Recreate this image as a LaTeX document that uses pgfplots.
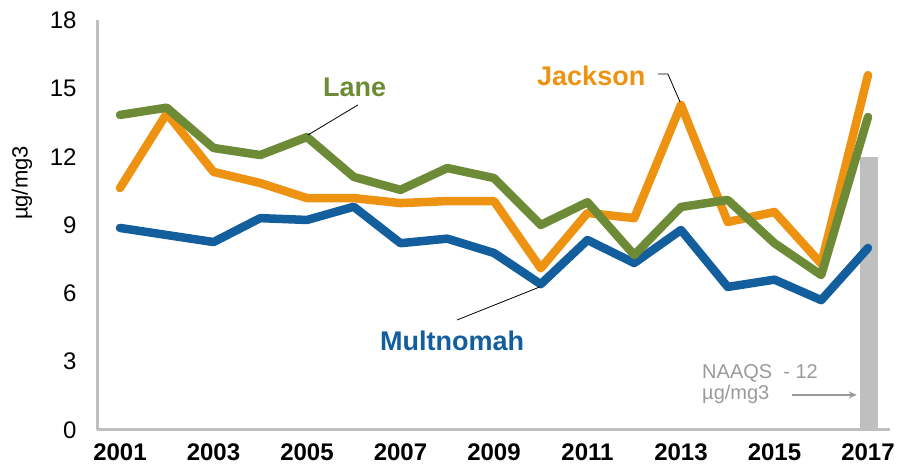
\documentclass[border=0pt]{standalone}
\usepackage{fontspec}
\setmainfont{Liberation Sans}
\usepackage{pgfplots}
\pgfplotsset{compat=1.18}
\usetikzlibrary{arrows.meta}
\definecolor{cblue}{HTML}{135E9C}
\definecolor{corange}{HTML}{EE9311}
\definecolor{cgreen}{HTML}{6D8B36}
\definecolor{axgray}{HTML}{BFBFBF}
\definecolor{txtgray}{HTML}{9A9A9A}
\begin{document}
\begin{tikzpicture}
\begin{axis}[
  x=46.75pt, y=22.78pt,
  xmin=2000.508, xmax=2017.47, ymin=0, ymax=18,
  axis x line=bottom, axis y line=left,
  axis line style={draw=axgray, line width=3pt, -},
  xtick={2001,2003,...,2017}, ytick={0,3,...,18},
  major tick length=0pt,
  tick label style={font=\fontsize{24}{28}\selectfont},
  xticklabel style={font=\fontsize{24}{28}\selectfont\bfseries, yshift=-10pt},
  yticklabel style={xshift=-17pt},
  /pgf/number format/assume math mode=true,
  /pgf/number format/1000 sep={},
  clip=false,
]
% NAAQS bar
\addplot[ybar, bar width=18pt, fill=axgray, draw=none] coordinates {(2017.02,12)};
% Multnomah
\addplot[cblue, line width=8.5pt, line join=round, line cap=round] coordinates {
(2001,8.87)(2002,8.56)(2003,8.25)(2004,9.3)(2005,9.22)(2006,9.8)(2007,8.2)(2008,8.4)
(2009,7.77)(2010,6.4)(2011,8.34)(2012,7.33)(2013,8.78)(2014,6.28)(2015,6.6)(2016,5.7)(2017,7.99)};
% Jackson
\addplot[corange, line width=8.5pt, line join=round, line cap=round] coordinates {
(2001,10.62)(2002,13.9)(2003,11.33)(2004,10.84)(2005,10.18)(2006,10.18)(2007,9.96)(2008,10.05)
(2009,10.05)(2010,7.1)(2011,9.53)(2012,9.3)(2013,14.27)(2014,9.13)(2015,9.57)(2016,7.3)(2017,15.58)};
% Lane
\addplot[cgreen, line width=8.5pt, line join=round, line cap=round] coordinates {
(2001,13.83)(2002,14.15)(2003,12.38)(2004,12.07)(2005,12.86)(2006,11.11)(2007,10.54)(2008,11.5)
(2009,11.06)(2010,9.0)(2011,10.0)(2012,7.68)(2013,9.79)(2014,10.1)(2015,8.2)(2016,6.8)(2017,13.74)};
% annotations
\node[anchor=base west, inner sep=0pt, text=cgreen, font=\fontsize{27}{30}\selectfont\bfseries] at (axis cs:2005.34,14.62) {Lane};
\draw[black, line width=0.8pt] (axis cs:2006.09,14.27) -- (axis cs:2005.02,12.95);
\node[anchor=base west, inner sep=0pt, text=corange, font=\fontsize{27}{30}\selectfont\bfseries] at (axis cs:2009.92,15.14) {Jackson};
\draw[black, line width=0.8pt] (axis cs:2012.51,15.63) -- (axis cs:2012.72,15.63) -- (axis cs:2012.98,14.40);
\node[anchor=base west, inner sep=0pt, text=cblue, font=\fontsize{27}{30}\selectfont\bfseries] at (axis cs:2006.56,3.51) {Multnomah};
\draw[black, line width=0.8pt] (axis cs:2008.21,4.83) -- (axis cs:2009.98,6.28);
\node[anchor=base west, inner sep=0pt, text=txtgray, font=\fontsize{20}{22}\selectfont] at (axis cs:2013.45,2.28) {NAAQS\ \ - 12};
\node[anchor=base west, inner sep=0pt, text=txtgray, font=\fontsize{20}{22}\selectfont] at (axis cs:2013.45,1.32) {µg/mg3};
\draw[txtgray, line width=1.3pt, -{Stealth[length=8pt,width=7pt]}] (axis cs:2015.37,1.54) -- (axis cs:2016.76,1.54);
\node[rotate=90, inner sep=0pt, font=\fontsize{22}{24}\selectfont] at (axis cs:1998.90,10.84) {µg/mg3};
\coordinate (bl) at (axis cs:1998.433,-1.932);
\coordinate (tr) at (axis cs:2017.642,18.876);
\end{axis}
\pgfresetboundingbox
\path[use as bounding box] (bl) rectangle (tr);
\end{tikzpicture}
\end{document}
